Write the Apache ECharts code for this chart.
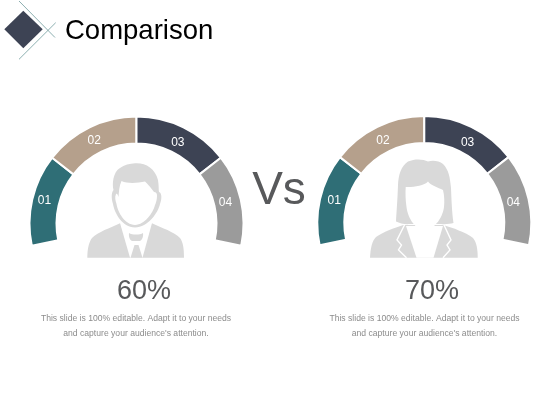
<!DOCTYPE html>
<html>
<head>
<meta charset="utf-8">
<style>
html, body { margin: 0; padding: 0; background: #fff; }
#main { width: 560px; height: 420px; }
</style>
</head>
<body>
<div id="main"></div>
<script src="https://cdn.jsdelivr.net/npm/echarts@6/dist/echarts.min.js"></script>
<script>
const categories = ['01', '02', '03', '04'];
// sweep of each arc piece, the rest of the circle stays empty
const leftValues = [50, 52, 52, 50];
const rightValues = [50, 52, 52, 50];
const emptyValue = 156;
const percentLabels = ['60%', '70%'];
const titleText = 'Comparison';
const vsText = 'Vs';
const noteLines = ['This slide is 100% editable. Adapt it to your needs', "and capture your audience's attention."];
const colors = ['#2f6e76', '#b5a08c', '#3d4354', '#9b9b9b'];

const font = '"Liberation Sans", Arial, sans-serif';
const iconGray = '#d9d9d9';

var chart = echarts.init(document.getElementById('main'));

function arcSeries(values, center, offsets) {
    var data = values.map(function (v, i) {
        return {
            name: categories[i], value: v,
            itemStyle: { color: colors[i] },
            label: { offset: offsets[i] }
        };
    });
    data.push({
        name: 'empty', value: emptyValue,
        itemStyle: { color: 'transparent', borderWidth: 0 },
        label: { show: false }
    });
    return {
        type: 'pie',
        center: center,
        radius: [80, 107],
        startAngle: 192,
        clockwise: true,
        silent: true,
        animation: false,
        itemStyle: { borderColor: '#fff', borderWidth: 2 },
        label: {
            show: true, position: 'inside', formatter: '{b}',
            color: '#fff', fontSize: 12, fontFamily: font
        },
        labelLine: { show: false },
        data: data
    };
}

function shape(d, fill) {
    return { type: 'path', shape: { pathData: d }, style: { fill: fill } };
}

function strokeLine(d, color, width) {
    return { type: 'path', shape: { pathData: d }, style: { fill: null, stroke: color, lineWidth: width } };
}

function label(text, x, y, size, fill) {
    return {
        type: 'text', silent: true,
        style: { text: text, x: x, y: y, fill: fill, font: size + 'px ' + font, textAlign: 'center', textVerticalAlign: 'middle' }
    };
}

// diamond next to the title
var logo = [
    shape('M23.3 10.7 L42.7 29.3 L23.3 48.3 L4.3 29.3 Z', '#3d4354'),
    strokeLine('M19 1 L55 37.5', '#6f9a9c', 0.8),
    strokeLine('M19 59.3 L55.7 22.7', '#6f9a9c', 0.8)
];

// man icon
var manIcon = [
    shape('M87.3 257.7 C87.5 248 89 242 92 238 C98 232 110 228 120 223.3 L152 223.3 C162 228 174 232 180 238 C183 242 184 248 184 257.7 Z', iconGray),
    shape('M120 223 L130 257.7 L142.5 257.7 L152 223 Z', '#fff'),
    shape('M129 233 C132 235 140 235 143 233 C143.5 237 142 240 140 241 L132 241 C130 240 128.5 237 129 233 Z', iconGray),
    shape('M134.5 245 L138.5 245 L142.5 257.7 L130.5 257.7 Z', iconGray),
    shape('M135 163.3 C145 162.5 155 168 158 180 C159 186 158.5 190 159 192 C162 193 162 199 160 204 C158 213 148 227 135 227.5 C122 227 114.5 213 113 204 C111.5 199 111 193 113.5 190 C112 184 113 172 120 168 C124 165 130 163.5 135 163.3 Z', iconGray),
    shape('M121.5 181 C128 184 138 183 145 181.5 C148 184 151 188 154 192 C156 192 157 193 157 196 C157 199 156 203 155 205 C153 213 145 224.5 135 225 C125 224.5 118 213 116.5 204 C115.5 201 114.5 197 116 194 C117 193 118 195 118.5 197 C119 192 119 186 121.5 181 Z', '#fff')
];

// woman icon
var womanIcon = [
    shape('M370 257.7 C370.5 248 372 241 376 237 C383 232 394 228 403.3 225 L443.3 225 C453 228 465 232 473 238 C476.5 242 477.7 249 477.7 257.7 Z', iconGray),
    shape('M406 226 L416.5 257.7 L433.5 257.7 L443 226 Z', '#fff'),
    strokeLine('M404.5 225 L397 240 L401.5 245 L398.5 250 L406.5 257.7', '#fff', 1.4),
    strokeLine('M444 225 L451 240 L447 245 L450 250 L443 257.7', '#fff', 1.4),
    shape('M428 161.5 C432 160 439 160.5 443 164 C449 170 450 178 451 188 C451.5 200 452 213 453.5 223 C450 224 445 224.5 441 224 L410 224 C405 224.5 400 223.5 396 221.5 C396.5 212 397.5 200 398 185 C398.5 175 401 166 408 161.5 C415 158.5 423 159 428 161.5 Z', iconGray),
    shape('M405.7 187 C412 187.5 424 186 428 181.5 C431 185.5 438 187.5 443 190 C444.5 196 444.5 202 444 207 C442.5 219 433 230 425 230.5 C416 230 408 219 406.5 207 C405.5 200 405.3 193 405.7 187 Z', '#fff')
];

var option = {
    backgroundColor: '#fff',
    animation: false,
    title: {
        text: titleText, left: 60, top: 12,
        textStyle: { color: '#000', fontSize: 27.5, fontWeight: 'normal', fontFamily: font }
    },
    graphic: [
        label(vsText, 279, 191, 46, '#58595b'),
        label(percentLabels[0], 144, 292, 27, '#58595b'),
        label(percentLabels[1], 432, 292, 27, '#58595b'),
        label(noteLines[0], 136, 318.5, 8.6, '#8c8c8c'),
        label(noteLines[1], 136, 333.5, 8.6, '#8c8c8c'),
        label(noteLines[0], 424.5, 318.5, 8.6, '#8c8c8c'),
        label(noteLines[1], 424.5, 333.5, 8.6, '#8c8c8c')
    ],
    series: [
        {
            type: 'custom',
            coordinateSystem: 'none',
            silent: true,
            data: [0],
            renderItem: function () {
                return { type: 'group', children: logo.concat(manIcon, womanIcon) };
            }
        },
        arcSeries(leftValues, [136.5, 223.6], [[2, -1], [0, 4], [-1, 6], [-5, 1]]),
        arcSeries(rightValues, [424.3, 223], [[4, -1], [1, 4], [1, 6], [-5, 1]])
    ]
};

chart.setOption(option);
</script>
</body>
</html>
